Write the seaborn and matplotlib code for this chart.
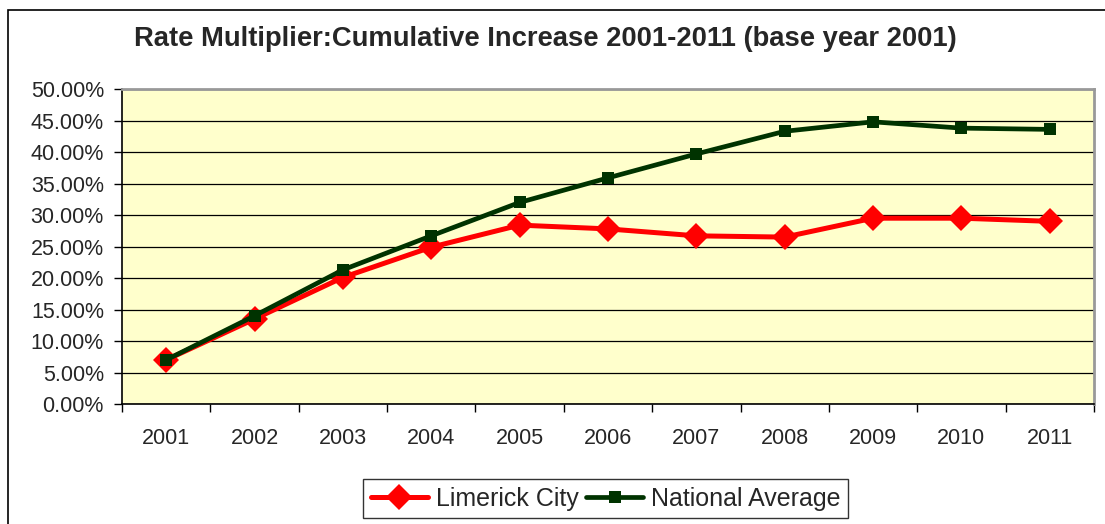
import matplotlib
matplotlib.use('Agg')
import numpy as np
import pandas as pd
import seaborn as sns
from matplotlib import pyplot as plt
from matplotlib.patches import Rectangle
from matplotlib.ticker import FixedLocator, PercentFormatter

# 데이터
years = ['2001', '2002', '2003', '2004', '2005', '2006',
         '2007', '2008', '2009', '2010', '2011']
limerick = [7.0, 13.5, 20.1, 24.9, 28.4, 27.8, 26.7, 26.5, 29.5, 29.5, 29.0]
national = [7.0, 14.0, 21.3, 26.7, 32.0, 35.9, 39.7, 43.3, 44.8, 43.8, 43.6]
y_ticks = [0, 5, 10, 15, 20, 25, 30, 35, 40, 45, 50]

sns.set_style('white')
plt.rcParams['font.family'] = ['Liberation Sans', 'DejaVu Sans']

df = pd.DataFrame({'year': years, 'Limerick City': limerick,
                   'National Average': national})
df['pos'] = np.arange(len(years))

fig = plt.figure(figsize=(11.05, 5.24), dpi=100)
ax = fig.add_axes([0.1104, 0.229, 0.8796, 0.601])
ax.set_facecolor('#FFFFCC')

# 바깥 테두리
fig.patches.append(Rectangle((8 / 1105, -0.1), 1.2, 1 - 10 / 524 + 0.1,
                             transform=fig.transFigure, fill=False,
                             edgecolor='black', linewidth=1.2))

sns.lineplot(data=df, x='pos', y='Limerick City', ax=ax, color='#FF0000',
             linewidth=3.6, marker='D', markersize=13, markeredgewidth=0,
             label='Limerick City', zorder=3)
sns.lineplot(data=df, x='pos', y='National Average', ax=ax, color='#003300',
             linewidth=3.4, marker='s', markersize=8.5, markeredgewidth=0,
             label='National Average', zorder=4)

ax.set_xlim(-0.5, len(years) - 0.5)
ax.set_ylim(0, 50)
ax.set_yticks(y_ticks)
ax.yaxis.set_major_formatter(PercentFormatter(decimals=2))
ax.grid(axis='y', color='black', linewidth=0.9)
ax.set_axisbelow(True)

ax.xaxis.set_major_locator(FixedLocator(np.arange(-0.5, len(years), 1.0)))
ax.xaxis.set_minor_locator(FixedLocator(np.arange(len(years))))
ax.set_xticklabels([], minor=False)
ax.set_xticklabels(years, minor=True)
ax.tick_params(axis='x', which='major', length=6, width=1, color='black',
               direction='out', bottom=True)
ax.tick_params(axis='x', which='minor', length=0, pad=17, labelsize=15.5)
ax.tick_params(axis='y', length=6, width=1, color='black', direction='out',
               left=True, labelsize=15.5, pad=7)
ax.set_xlabel('')
ax.set_ylabel('')

for s in ['left', 'bottom']:
    ax.spines[s].set_color('black')
    ax.spines[s].set_linewidth(1.2)
for s in ['top', 'right']:
    ax.spines[s].set_color('#999999')
    ax.spines[s].set_linewidth(2)

fig.text(0.494, 0.925, 'Rate Multiplier:Cumulative Increase 2001-2011 (base year 2001)',
         ha='center', va='center', fontsize=19.7, fontweight='bold')

leg = ax.legend(loc='center', bbox_to_anchor=(0.548, 0.048),
                bbox_transform=fig.transFigure, ncol=2, frameon=True,
                fancybox=False, fontsize=18, handlelength=2.3,
                handletextpad=0.3, columnspacing=0.3, borderpad=0.3)
leg.get_frame().set_edgecolor('black')
leg.get_frame().set_linewidth(1)

fig.savefig('out.png', dpi=100)
